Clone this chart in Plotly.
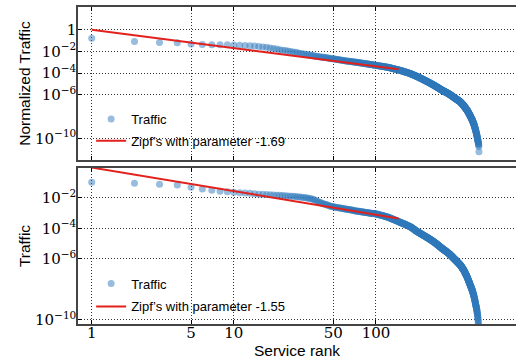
import plotly.graph_objects as go

# ---------------- data (log10 of traffic, one value per service rank) ----------------
norm_traffic_exp = [
    -0.77, -1.08, -1.17, -1.20, -1.32, -1.35, -1.37, -1.38, -1.39, -1.40,
    -1.42, -1.45, -1.47, -1.50, -1.55, -1.58, -1.62, -1.67, -1.72, -1.78,
    -1.83, -1.88, -1.92, -1.96, -2.00, -2.04, -2.08, -2.12, -2.16, -2.20,
    -2.23, -2.26, -2.29, -2.32, -2.35, -2.38, -2.41, -2.43, -2.46, -2.48,
    -2.50, -2.52, -2.54, -2.56, -2.58, -2.60, -2.62, -2.64, -2.66, -2.68,
    -2.70, -2.72, -2.73, -2.75, -2.77, -2.78, -2.80, -2.81, -2.83, -2.85,
    -2.86, -2.87, -2.89, -2.90, -2.91, -2.92, -2.93, -2.94, -2.96, -2.97,
    -2.98, -2.99, -3.00, -3.01, -3.02, -3.03, -3.04, -3.05, -3.07, -3.08,
    -3.09, -3.10, -3.11, -3.12, -3.13, -3.14, -3.15, -3.16, -3.17, -3.18,
    -3.19, -3.20, -3.21, -3.22, -3.23, -3.24, -3.25, -3.26, -3.27, -3.28,
    -3.29, -3.30, -3.31, -3.31, -3.32, -3.33, -3.34, -3.35, -3.36, -3.37,
    -3.37, -3.38, -3.39, -3.40, -3.41, -3.42, -3.42, -3.43, -3.44, -3.45,
    -3.46, -3.47, -3.48, -3.49, -3.50, -3.51, -3.52, -3.53, -3.54, -3.56,
    -3.57, -3.58, -3.59, -3.60, -3.61, -3.62, -3.63, -3.64, -3.65, -3.66,
    -3.67, -3.68, -3.69, -3.70, -3.71, -3.72, -3.74, -3.75, -3.76, -3.77,
    -3.78, -3.79, -3.80, -3.81, -3.82, -3.83, -3.84, -3.86, -3.87, -3.88,
    -3.89, -3.90, -3.91, -3.92, -3.93, -3.94, -3.95, -3.97, -3.98, -3.99,
    -4.00, -4.01, -4.02, -4.03, -4.05, -4.06, -4.07, -4.09, -4.10, -4.11,
    -4.13, -4.14, -4.15, -4.17, -4.18, -4.19, -4.21, -4.22, -4.23, -4.25,
    -4.26, -4.27, -4.29, -4.30, -4.31, -4.33, -4.34, -4.35, -4.37, -4.38,
    -4.39, -4.41, -4.42, -4.44, -4.45, -4.46, -4.48, -4.49, -4.50, -4.52,
    -4.53, -4.54, -4.56, -4.57, -4.58, -4.60, -4.61, -4.62, -4.64, -4.65,
    -4.66, -4.67, -4.69, -4.70, -4.71, -4.73, -4.74, -4.75, -4.77, -4.78,
    -4.79, -4.80, -4.82, -4.83, -4.84, -4.86, -4.87, -4.88, -4.90, -4.91,
    -4.92, -4.93, -4.95, -4.96, -4.97, -4.99, -5.00, -5.01, -5.02, -5.04,
    -5.05, -5.06, -5.08, -5.09, -5.10, -5.11, -5.12, -5.14, -5.15, -5.16,
    -5.18, -5.19, -5.20, -5.22, -5.23, -5.24, -5.25, -5.27, -5.28, -5.29,
    -5.31, -5.32, -5.33, -5.35, -5.36, -5.37, -5.38, -5.40, -5.41, -5.42,
    -5.44, -5.45, -5.46, -5.47, -5.49, -5.50, -5.51, -5.53, -5.54, -5.55,
    -5.56, -5.57, -5.58, -5.59, -5.60, -5.61, -5.62, -5.63, -5.64, -5.65,
    -5.66, -5.67, -5.68, -5.69, -5.70, -5.71, -5.72, -5.73, -5.74, -5.75,
    -5.76, -5.77, -5.78, -5.79, -5.80, -5.81, -5.82, -5.83, -5.84, -5.85,
    -5.86, -5.87, -5.88, -5.89, -5.90, -5.91, -5.92, -5.93, -5.94, -5.95,
    -5.96, -5.97, -5.99, -6.00, -6.01, -6.02, -6.04, -6.05, -6.06, -6.07,
    -6.08, -6.09, -6.11, -6.12, -6.13, -6.14, -6.15, -6.16, -6.18, -6.19,
    -6.20, -6.21, -6.22, -6.23, -6.25, -6.26, -6.27, -6.28, -6.29, -6.30,
    -6.31, -6.32, -6.33, -6.35, -6.36, -6.37, -6.38, -6.39, -6.40, -6.41,
    -6.42, -6.43, -6.44, -6.45, -6.46, -6.47, -6.48, -6.49, -6.50, -6.51,
    -6.52, -6.53, -6.54, -6.55, -6.56, -6.57, -6.58, -6.59, -6.60, -6.62,
    -6.63, -6.65, -6.66, -6.68, -6.69, -6.71, -6.72, -6.74, -6.75, -6.77,
    -6.78, -6.80, -6.81, -6.83, -6.84, -6.86, -6.87, -6.89, -6.90, -6.92,
    -6.94, -6.95, -6.97, -6.98, -7.00, -7.02, -7.04, -7.05, -7.07, -7.09,
    -7.11, -7.13, -7.15, -7.16, -7.18, -7.20, -7.22, -7.24, -7.26, -7.27,
    -7.29, -7.31, -7.33, -7.35, -7.36, -7.38, -7.40, -7.42, -7.44, -7.47,
    -7.49, -7.51, -7.53, -7.56, -7.58, -7.60, -7.62, -7.64, -7.67, -7.69,
    -7.71, -7.73, -7.76, -7.78, -7.80, -7.82, -7.85, -7.88, -7.90, -7.93,
    -7.95, -7.98, -8.00, -8.03, -8.05, -8.08, -8.10, -8.13, -8.15, -8.18,
    -8.20, -8.23, -8.25, -8.28, -8.30, -8.33, -8.36, -8.39, -8.42, -8.45,
    -8.48, -8.51, -8.54, -8.57, -8.60, -8.63, -8.66, -8.69, -8.72, -8.75,
    -8.79, -8.83, -8.87, -8.91, -8.95, -8.99, -9.03, -9.07, -9.11, -9.16,
    -9.20, -9.24, -9.29, -9.33, -9.38, -9.42, -9.47, -9.52, -9.56, -9.61,
    -9.65, -9.70, -9.75, -9.81, -9.87, -9.92, -9.98, -10.03, -10.09, -10.15,
    -10.20, -10.25, -10.30, -10.36, -10.42, -10.48, -10.55, -10.62, -10.75, -11.25,
]

traffic_exp = [
    -0.97, -1.03, -1.10, -1.14, -1.30, -1.41, -1.49, -1.56, -1.59, -1.62,
    -1.65, -1.67, -1.69, -1.72, -1.75, -1.76, -1.77, -1.79, -1.80, -1.82,
    -1.83, -1.84, -1.85, -1.87, -1.88, -1.89, -1.91, -1.92, -1.93, -1.95,
    -1.97, -1.99, -2.01, -2.03, -2.05, -2.09, -2.14, -2.19, -2.24, -2.28,
    -2.32, -2.36, -2.39, -2.42, -2.45, -2.48, -2.51, -2.54, -2.56, -2.58,
    -2.60, -2.61, -2.62, -2.64, -2.65, -2.66, -2.68, -2.69, -2.70, -2.72,
    -2.73, -2.74, -2.75, -2.76, -2.77, -2.78, -2.79, -2.80, -2.82, -2.83,
    -2.84, -2.85, -2.86, -2.87, -2.87, -2.88, -2.89, -2.90, -2.91, -2.92,
    -2.93, -2.93, -2.94, -2.95, -2.96, -2.96, -2.97, -2.98, -2.99, -2.99,
    -3.00, -3.01, -3.01, -3.02, -3.02, -3.03, -3.03, -3.04, -3.04, -3.05,
    -3.06, -3.07, -3.08, -3.09, -3.10, -3.11, -3.12, -3.13, -3.14, -3.15,
    -3.16, -3.17, -3.18, -3.19, -3.20, -3.21, -3.22, -3.23, -3.24, -3.25,
    -3.26, -3.28, -3.29, -3.30, -3.31, -3.33, -3.34, -3.35, -3.36, -3.38,
    -3.39, -3.40, -3.41, -3.43, -3.44, -3.45, -3.46, -3.48, -3.49, -3.50,
    -3.51, -3.53, -3.54, -3.55, -3.56, -3.58, -3.59, -3.60, -3.61, -3.62,
    -3.63, -3.64, -3.66, -3.67, -3.68, -3.69, -3.70, -3.71, -3.72, -3.73,
    -3.74, -3.76, -3.77, -3.78, -3.79, -3.80, -3.81, -3.82, -3.83, -3.84,
    -3.86, -3.87, -3.88, -3.89, -3.90, -3.92, -3.93, -3.95, -3.96, -3.98,
    -4.00, -4.01, -4.03, -4.04, -4.06, -4.07, -4.09, -4.11, -4.12, -4.14,
    -4.15, -4.17, -4.18, -4.20, -4.21, -4.22, -4.24, -4.25, -4.26, -4.27,
    -4.28, -4.29, -4.31, -4.32, -4.33, -4.34, -4.35, -4.36, -4.38, -4.39,
    -4.40, -4.41, -4.42, -4.43, -4.45, -4.46, -4.47, -4.48, -4.49, -4.50,
    -4.51, -4.52, -4.53, -4.54, -4.55, -4.57, -4.58, -4.59, -4.60, -4.61,
    -4.62, -4.63, -4.64, -4.65, -4.66, -4.67, -4.68, -4.70, -4.71, -4.72,
    -4.73, -4.74, -4.75, -4.76, -4.77, -4.78, -4.79, -4.80, -4.82, -4.83,
    -4.84, -4.85, -4.86, -4.87, -4.88, -4.89, -4.90, -4.92, -4.93, -4.94,
    -4.95, -4.96, -4.98, -4.99, -5.00, -5.01, -5.02, -5.04, -5.05, -5.06,
    -5.07, -5.08, -5.10, -5.11, -5.12, -5.13, -5.14, -5.16, -5.17, -5.18,
    -5.19, -5.20, -5.22, -5.23, -5.24, -5.25, -5.26, -5.28, -5.29, -5.30,
    -5.31, -5.32, -5.33, -5.34, -5.35, -5.36, -5.37, -5.38, -5.39, -5.40,
    -5.41, -5.42, -5.43, -5.44, -5.45, -5.46, -5.47, -5.48, -5.49, -5.50,
    -5.51, -5.52, -5.53, -5.54, -5.55, -5.56, -5.57, -5.58, -5.59, -5.60,
    -5.61, -5.62, -5.63, -5.64, -5.65, -5.66, -5.67, -5.68, -5.69, -5.70,
    -5.71, -5.72, -5.74, -5.75, -5.76, -5.77, -5.79, -5.80, -5.81, -5.82,
    -5.83, -5.84, -5.86, -5.87, -5.88, -5.89, -5.90, -5.91, -5.93, -5.94,
    -5.95, -5.96, -5.97, -5.98, -6.00, -6.01, -6.02, -6.03, -6.04, -6.05,
    -6.06, -6.07, -6.08, -6.10, -6.11, -6.12, -6.13, -6.14, -6.15, -6.16,
    -6.17, -6.19, -6.20, -6.21, -6.22, -6.23, -6.24, -6.25, -6.26, -6.28,
    -6.29, -6.30, -6.31, -6.32, -6.33, -6.34, -6.35, -6.37, -6.38, -6.39,
    -6.40, -6.41, -6.42, -6.44, -6.45, -6.47, -6.48, -6.50, -6.51, -6.53,
    -6.54, -6.56, -6.57, -6.59, -6.60, -6.62, -6.63, -6.65, -6.66, -6.68,
    -6.69, -6.71, -6.72, -6.74, -6.75, -6.77, -6.79, -6.81, -6.83, -6.85,
    -6.87, -6.89, -6.91, -6.93, -6.95, -6.97, -6.99, -7.01, -7.02, -7.04,
    -7.06, -7.08, -7.10, -7.12, -7.14, -7.16, -7.18, -7.20, -7.23, -7.25,
    -7.27, -7.30, -7.32, -7.34, -7.37, -7.39, -7.41, -7.44, -7.46, -7.48,
    -7.51, -7.53, -7.55, -7.58, -7.60, -7.62, -7.65, -7.67, -7.69, -7.72,
    -7.74, -7.76, -7.78, -7.81, -7.83, -7.85, -7.87, -7.90, -7.92, -7.94,
    -7.96, -7.99, -8.01, -8.03, -8.05, -8.08, -8.11, -8.14, -8.17, -8.20,
    -8.23, -8.26, -8.29, -8.32, -8.35, -8.38, -8.41, -8.44, -8.47, -8.50,
    -8.54, -8.58, -8.62, -8.66, -8.70, -8.73, -8.77, -8.81, -8.85, -8.89,
    -8.93, -8.97, -9.01, -9.05, -9.09, -9.12, -9.16, -9.20, -9.24, -9.28,
    -9.31, -9.35, -9.41, -9.46, -9.52, -9.58, -9.63, -9.69, -9.74, -9.80,
    -9.88, -9.96, -10.05, -10.15, -10.25, -10.36, -10.48, -10.62, -10.80, -11.05,
]

zipf_rank = [1, 144]
zipf_param_top = -1.69
zipf_param_bottom = -1.55

x_tickvals = [1, 5, 10, 50, 100]
x_ticktext = ["1", "5", "10", "50", "100"]
y_tickvals_top = [1, 1e-2, 1e-4, 1e-6, 1e-10]
y_ticktext_top = ["1", "10<sup>\u22122</sup>", "10<sup>\u22124</sup>", "10<sup>\u22126</sup>", "10<sup>\u221210</sup>"]
y_tickvals_bottom = [1e-2, 1e-4, 1e-6, 1e-10]
y_ticktext_bottom = ["10<sup>\u22122</sup>", "10<sup>\u22124</sup>", "10<sup>\u22126</sup>", "10<sup>\u221210</sup>"]

# ---------------- derived ----------------
ranks_top = list(range(1, len(norm_traffic_exp) + 1))
ranks_bottom = list(range(1, len(traffic_exp) + 1))
norm_traffic = [10 ** v for v in norm_traffic_exp]
traffic = [10 ** v for v in traffic_exp]
zipf_top = [r ** zipf_param_top for r in zipf_rank]
zipf_bottom = [r ** zipf_param_bottom for r in zipf_rank]

BLUE = "rgb(48,122,188)"
RED = "#e3211c"
SANS = "Liberation Sans, Arial, sans-serif"
SERIF = "DejaVu Serif, serif"

fig = go.Figure()
fig.add_trace(go.Scatter(
    x=ranks_top, y=norm_traffic, mode="markers", name="Traffic",
    marker=dict(size=7, color=BLUE, opacity=0.5, line=dict(width=0)),
    xaxis="x", yaxis="y", legend="legend", legendgroup="a"))
fig.add_trace(go.Scatter(
    x=zipf_rank, y=zipf_top, mode="lines",
    name="Zipf\u2019s with parameter %s" % ("%.2f" % zipf_param_top),
    line=dict(color=RED, width=2),
    xaxis="x", yaxis="y", legend="legend", legendgroup="b"))
fig.add_trace(go.Scatter(
    x=ranks_bottom, y=traffic, mode="markers", name="Traffic",
    marker=dict(size=7, color=BLUE, opacity=0.5, line=dict(width=0)),
    xaxis="x2", yaxis="y2", legend="legend2", legendgroup="c"))
fig.add_trace(go.Scatter(
    x=zipf_rank, y=zipf_bottom, mode="lines",
    name="Zipf\u2019s with parameter %s" % ("%.2f" % zipf_param_bottom),
    line=dict(color=RED, width=2),
    xaxis="x2", yaxis="y2", legend="legend2", legendgroup="d"))

common_x = dict(
    type="log", range=[-0.0964, 2.985], tickvals=x_tickvals, ticktext=x_ticktext,
    ticks="inside", ticklen=4, tickcolor="black", tickwidth=1,
    showline=True, linecolor="#444444", linewidth=1.5, mirror="allticks",
    showgrid=True, gridcolor="#333333", gridwidth=1, griddash="1px,2px",
    zeroline=False, tickfont=dict(family=SERIF, size=15, color="black"),
)
common_y = dict(
    type="log", ticks="inside", ticklen=4, tickcolor="black", tickwidth=1,
    showline=True, linecolor="#444444", linewidth=1.5, mirror=False,
    showgrid=True, gridcolor="#333333", gridwidth=1, griddash="1px,2px",
    zeroline=False, tickfont=dict(family=SERIF, size=15, color="black"),
    ticklabelstandoff=-3,
)

fig.update_layout(
    width=516, height=362,
    margin=dict(l=78, r=0, t=7, b=38),
    paper_bgcolor="white", plot_bgcolor="white",
    showlegend=True,
    xaxis=dict(common_x, anchor="y", showticklabels=False, domain=[0, 1]),
    yaxis=dict(common_y, anchor="x", domain=[0.5174, 1.0], range=[-12.0, 2.1],
               tickvals=y_tickvals_top, ticktext=y_ticktext_top,
               title=dict(text="Normalized Traffic", font=dict(family=SANS, size=15.5, color="black"), standoff=1)),
    xaxis2=dict(common_x, anchor="y2", showticklabels=True, domain=[0, 1], ticklabelstandoff=-6,
                title=dict(text="Service rank", font=dict(family=SANS, size=15.5, color="black"), standoff=0)),
    yaxis2=dict(common_y, anchor="x2", domain=[0.0, 0.4921], range=[-10.29, -0.03],
                tickvals=y_tickvals_bottom, ticktext=y_ticktext_bottom,
                title=dict(text="Traffic", font=dict(family=SANS, size=15.5, color="black"), standoff=1)),
    legend=dict(x=0.03, y=0.694, xanchor="left", yanchor="top", bgcolor="rgba(0,0,0,0)",
                font=dict(family=SANS, size=13, color="black"), traceorder="grouped",
                tracegroupgap=2),
    legend2=dict(x=0.03, y=0.175, xanchor="left", yanchor="top", bgcolor="rgba(0,0,0,0)",
                 font=dict(family=SANS, size=13, color="black"), traceorder="grouped",
                 tracegroupgap=3),
)

fig.write_html("out.html", config={"displayModeBar": False},
               post_script="document.body.style.margin='0';document.body.style.padding='0';")
